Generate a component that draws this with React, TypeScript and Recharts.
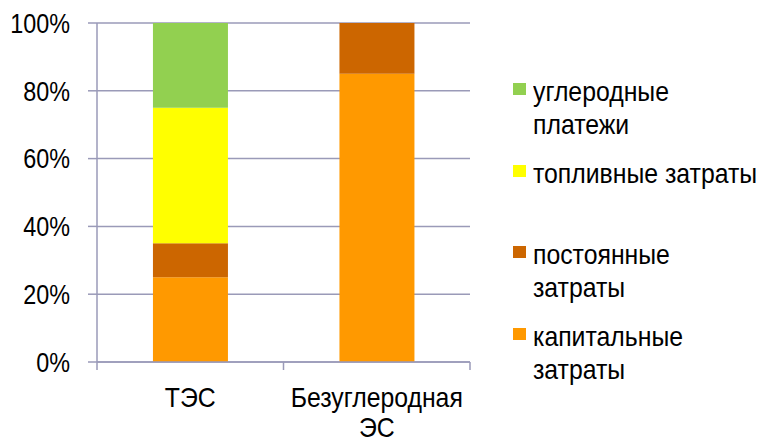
import React from 'react';
import { BarChart, Bar, XAxis, YAxis, CartesianGrid, Legend } from 'recharts';

// Cost structure, % of total
const categories = ['ТЭС', 'Безуглеродная ЭС'];
const capitalCosts = [25, 85];
const fixedCosts = [10, 15];
const fuelCosts = [40, 0];
const carbonPayments = [25, 0];
const yTicks = [0, 20, 40, 60, 80, 100];

// Series from bottom of the stack to the top
const series = [
  { key: 'capital', name: 'капитальные затраты', legendLines: ['капитальные', 'затраты'], color: '#FF9900', values: capitalCosts },
  { key: 'fixed', name: 'постоянные затраты', legendLines: ['постоянные', 'затраты'], color: '#CC6600', values: fixedCosts },
  { key: 'fuel', name: 'топливные затраты', legendLines: ['топливные затраты'], color: '#FFFF00', values: fuelCosts },
  { key: 'carbon', name: 'углеродные платежи', legendLines: ['углеродные', 'платежи'], color: '#92D050', values: carbonPayments },
];

const data = categories.map((name, i) => {
  const row: Record<string, string | number> = { name };
  series.forEach((s) => {
    row[s.key] = s.values[i];
  });
  return row;
});

const FONT = "'Liberation Sans', Arial, sans-serif";
const FONT_SIZE = 28.5;
const GRID = '#9a9ab8';

// Percent label on the value axis, set in a condensed width
const PercentTick = (props: any) => {
  const { x, y, payload, tickFormatter } = props;
  const label = tickFormatter ? tickFormatter(payload.value) : String(payload.value);
  return (
    <text
      transform={`translate(${x},${y}) scale(0.82,1)`}
      textAnchor="end"
      dominantBaseline="central"
      fontFamily={FONT}
      fontSize={FONT_SIZE}
      fill="#000"
    >
      {label}
    </text>
  );
};

// Category label plus tick marks on the boundaries between categories
const CategoryTick = (props: any) => {
  const { x, y, payload, index, visibleTicksCount } = props;
  const half = payload.offset || 0;
  const lines = String(payload.value).split(' ');
  const isLast = index === (visibleTicksCount ?? categories.length) - 1;
  return (
    <g>
      <line x1={x - half} x2={x - half} y1={y} y2={y + 8} stroke={GRID} strokeWidth={1.5} />
      {isLast && <line x1={x + half} x2={x + half} y1={y} y2={y + 8} stroke={GRID} strokeWidth={1.5} />}
      {lines.map((l, i) => (
        <text
          key={i}
          transform={`translate(${x},${y + 45 + i * 30}) scale(0.87,1)`}
          textAnchor="middle"
          fontFamily={FONT}
          fontSize={FONT_SIZE}
          fill="#000"
        >
          {l}
        </text>
      ))}
    </g>
  );
};

const LegendBox = () => {
  const items = [...series].reverse();
  return (
    <div style={{ width: 287, height: 444, position: 'relative', fontFamily: FONT, fontSize: FONT_SIZE, color: '#000' }}>
      {items.map((s, i) => (
        <div key={s.key} style={{ position: 'absolute', left: 0, top: 75 + i * 81.5, width: 287 }}>
          <div style={{ position: 'absolute', left: 43, top: 8, width: 13, height: 12, background: s.color }} />
          <div
            style={{
              position: 'absolute',
              left: 63,
              top: 0,
              lineHeight: '33px',
              whiteSpace: 'nowrap',
              textAlign: 'left',
              transform: 'scaleX(0.87)',
              transformOrigin: 'left top',
            }}
          >
            {s.legendLines.map((l, j) => (
              <div key={j}>{l}</div>
            ))}
          </div>
        </div>
      ))}
    </div>
  );
};

export default function App() {
  return (
    <div style={{ position: 'absolute', left: 0, top: 0, width: 757, height: 444, background: '#fff' }}>
      <BarChart
        width={757}
        height={444}
        data={data}
        margin={{ top: 23, right: 0, bottom: 0, left: 0 }}
        barCategoryGap="30%"
      >
        <CartesianGrid horizontal vertical={false} stroke={GRID} strokeWidth={1.5} />
        <XAxis
          dataKey="name"
          height={82}
          axisLine={{ stroke: GRID, strokeWidth: 1.5 }}
          tickLine={false}
          tickSize={0}
          tickMargin={0}
          interval={0}
          tick={<CategoryTick />}
        />
        <YAxis
          width={97}
          domain={[0, 100]}
          ticks={yTicks}
          interval={0}
          tickFormatter={(v: number) => `${v}%`}
          axisLine={{ stroke: GRID, strokeWidth: 1.5 }}
          tickLine={{ stroke: GRID, strokeWidth: 1.5 }}
          tickSize={9}
          tickMargin={18}
          tick={<PercentTick />}
        />
        <Legend
          layout="vertical"
          align="right"
          verticalAlign="top"
          wrapperStyle={{ top: 0, right: 0 }}
          content={() => <LegendBox />}
        />
        {series.map((s) => (
          <Bar key={s.key} dataKey={s.key} name={s.name} stackId="a" fill={s.color} isAnimationActive={false} />
        ))}
      </BarChart>
    </div>
  );
}
